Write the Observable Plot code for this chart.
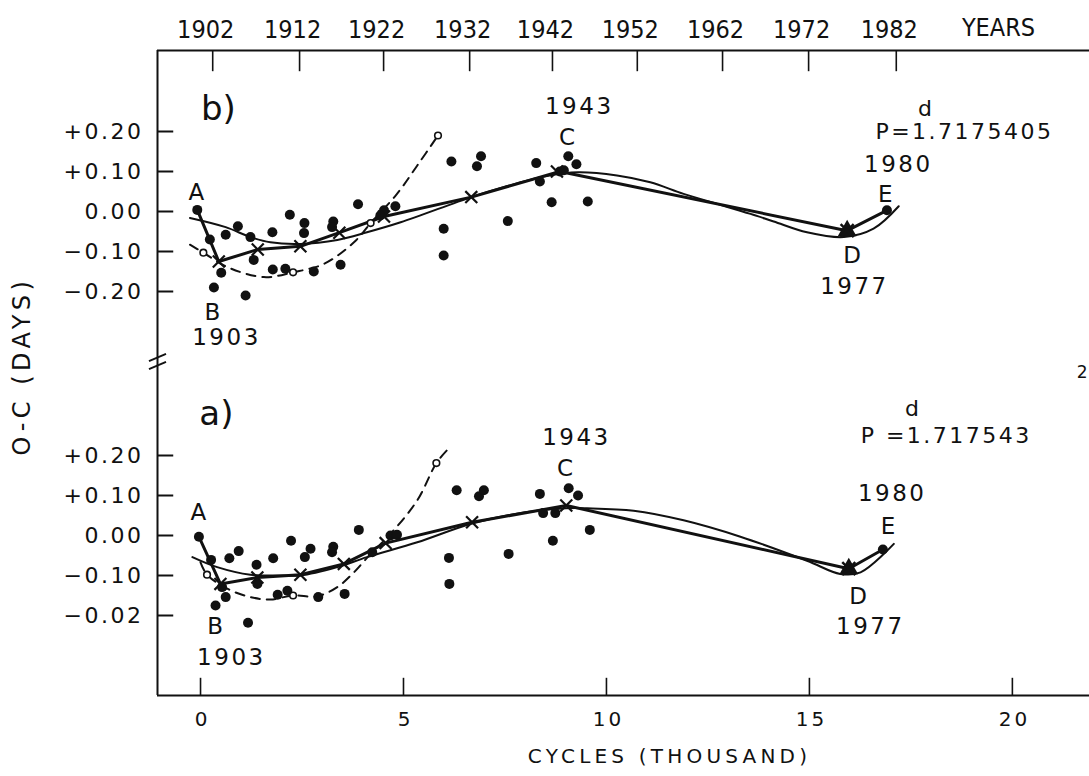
<!DOCTYPE html>
<html>
<head>
<meta charset="utf-8">
<script src="https://cdn.jsdelivr.net/npm/d3@7"></script>
<script src="https://cdn.jsdelivr.net/npm/@observablehq/plot@0.6"></script>
<style>
  html, body { margin: 0; padding: 0; background: #fff; }
  #chart svg { display: block; }
</style>
</head>
<body>
<div id="chart"></div>
<script>
// ---------- axes / tick labels ----------
const years = ["1902","1912","1922","1932","1942","1952","1962","1972","1982"];
const yearCycles = [0.30, 2.44, 4.51, 6.63, 8.67, 10.76, 12.86, 14.98, 17.14]; // thousand cycles
const cycleTicks = [0, 5, 10, 15, 20];
const yValueTicks = [0.2, 0.1, 0, -0.1, -0.2];
const yLabelsB = ["+0.20", "+0.10", "0.00", "\u22120.10", "\u22120.20"];
const yLabelsA = ["+0.20", "+0.10", "0.00", "\u22120.10", "\u22120.02"];

// ---------- panel b (P = 1.7175405 d) ----------
const bFilled = [[-0.08,0.004],[0.23,-0.07],[0.33,-0.19],[0.51,-0.153],[0.62,-0.058],[0.92,-0.037],[1.11,-0.21],[1.23,-0.064],[1.31,-0.121],[1.77,-0.052],[1.78,-0.145],[2.09,-0.143],[2.20,-0.008],[2.56,-0.029],[2.55,-0.054],[2.79,-0.15],[3.27,-0.025],[3.24,-0.039],[3.45,-0.133],[3.88,0.018],[4.52,0.003],[4.43,-0.01],[4.80,0.013],[5.99,-0.043],[5.99,-0.11],[6.18,0.125],[6.81,0.113],[6.91,0.138],[7.57,-0.024],[8.27,0.121],[8.36,0.075],[8.65,0.023],[8.85,0.10],[8.95,0.103],[9.06,0.138],[9.26,0.118],[9.54,0.025],[16.91,0.003]];
const bOpen = [[0.07,-0.103],[2.28,-0.152],[4.19,-0.029],[5.85,0.19]];
const bCrosses = [[0.45,-0.125],[1.41,-0.095],[2.46,-0.087],[3.42,-0.053],[4.52,-0.0125],[6.67,0.036],[8.78,0.10]];
const bBroken = [[-0.08,0.004],[0.45,-0.125],[1.41,-0.095],[2.46,-0.087],[3.42,-0.053],[4.52,-0.0125],[6.67,0.036],[8.85,0.10],[15.93,-0.048],[16.91,0.003]];
const bPointD = [[15.93,-0.048]];
const bSmooth = [[-0.26,-0.016],[0.62,-0.039],[1.23,-0.064],[1.72,-0.077],[2.46,-0.081],[3.37,-0.071],[4.1,-0.052],[4.93,-0.027],[6.67,0.036],[7.5,0.062],[8.5,0.088],[9.3,0.098],[10.26,0.09],[11.08,0.073],[11.9,0.044],[12.73,0.019],[13.55,-0.006],[14.12,-0.025],[14.94,-0.052],[15.85,-0.064],[16.58,-0.043],[17.2,0.013]];
const bDashed = [[-0.26,-0.083],[0.07,-0.103],[0.66,-0.139],[1.56,-0.164],[2.28,-0.152],[3.04,-0.131],[3.78,-0.077],[4.19,-0.029],[4.84,0.044],[5.34,0.115],[5.85,0.19]];

// ---------- panel a (P = 1.717543 d) ----------
const aFilled = [[-0.04,-0.003],[0.26,-0.061],[0.37,-0.175],[0.53,-0.129],[0.62,-0.154],[0.71,-0.057],[0.94,-0.039],[1.17,-0.218],[1.38,-0.073],[1.40,-0.121],[1.79,-0.057],[1.90,-0.148],[2.14,-0.138],[2.23,-0.013],[2.57,-0.054],[2.71,-0.033],[2.90,-0.154],[3.27,-0.028],[3.24,-0.042],[3.55,-0.146],[3.90,0.014],[4.23,-0.042],[4.68,0.0],[4.84,0.002],[6.12,-0.056],[6.13,-0.121],[6.31,0.113],[6.86,0.098],[6.98,0.113],[7.59,-0.046],[8.36,0.104],[8.44,0.056],[8.74,0.056],[8.68,-0.013],[9.07,0.118],[9.30,0.10],[9.59,0.014],[16.81,-0.035]];
const aOpen = [[0.16,-0.098],[2.28,-0.15],[5.81,0.181]];
const aCrosses = [[0.49,-0.121],[1.40,-0.105],[2.46,-0.098],[3.53,-0.071],[4.56,-0.019],[6.69,0.033],[9.01,0.075]];
const aBroken = [[-0.04,-0.003],[0.49,-0.121],[1.40,-0.105],[2.46,-0.098],[3.53,-0.071],[4.56,-0.019],[6.69,0.033],[9.01,0.075],[15.97,-0.083],[16.81,-0.035]];
const aPointD = [[15.97,-0.083]];
const aSmooth = [[-0.2,-0.054],[0.41,-0.079],[1.23,-0.098],[2.05,-0.1],[2.46,-0.1],[3.37,-0.079],[4.1,-0.054],[5.34,-0.017],[6.69,0.03],[8.0,0.058],[9.0,0.068],[9.52,0.068],[10.67,0.062],[11.9,0.038],[13.3,-0.003],[14.94,-0.063],[15.76,-0.096],[16.26,-0.092],[17.08,-0.021]];
const aDashed = [[0.0,-0.067],[0.16,-0.098],[0.66,-0.133],[1.23,-0.154],[1.72,-0.16],[2.28,-0.15],[2.87,-0.152],[3.37,-0.129],[3.78,-0.092],[4.19,-0.046],[4.68,0.004],[5.34,0.088],[5.81,0.181],[6.07,0.213]];

// ---------- layout (stacked panels on one y scale) ----------
const OFFSET_B = 0.81;            // panel b drawn 0.81 d above panel a
const xDomain = [-1.06, 21.9];
const yDomain = [-0.40, 1.2125];
const shiftB = arr => arr.map(([c, v]) => [c, v + OFFSET_B]);

const yTicks = [
  ...yValueTicks.map((v, i) => ({pos: v + OFFSET_B, label: yLabelsB[i]})),
  ...yValueTicks.map((v, i) => ({pos: v, label: yLabelsA[i]}))
];

// annotations in chart coordinates (cycles, stacked O-C)
const notes = [
  {t: "A", x: -0.07, y: 0.8575, s: 23},
  {t: "B", x: 0.32, y: 0.5575, s: 23},
  {t: "1903", x: 0.64, y: 0.495, s: 23},
  {t: "1943", x: 9.33, y: 1.0725, s: 23},
  {t: "C", x: 9.06, y: 0.995, s: 23},
  {t: "d", x: 17.88, y: 1.0675, s: 22},
  {t: "P=1.7175405", x: 18.82, y: 1.01, s: 22},
  {t: "1980", x: 17.19, y: 0.9275, s: 23},
  {t: "E", x: 16.90, y: 0.8525, s: 23},
  {t: "D", x: 16.08, y: 0.70, s: 23},
  {t: "1977", x: 16.11, y: 0.6225, s: 23},
  {t: "A", x: -0.02, y: 0.0575, s: 23},
  {t: "B", x: 0.39, y: -0.2275, s: 23},
  {t: "1903", x: 0.76, y: -0.305, s: 23},
  {t: "1943", x: 9.26, y: 0.245, s: 23},
  {t: "C", x: 9.01, y: 0.1675, s: 23},
  {t: "d", x: 17.56, y: 0.3175, s: 22},
  {t: "P =1.717543", x: 18.37, y: 0.25, s: 22},
  {t: "1980", x: 17.04, y: 0.105, s: 23},
  {t: "E", x: 16.97, y: 0.0225, s: 23},
  {t: "D", x: 16.23, y: -0.1525, s: 23},
  {t: "1977", x: 16.50, y: -0.2275, s: 23}
];
const panelTags = [
  {t: "b)", x: 0.44, y: 1.065},
  {t: "a)", x: 0.39, y: 0.3025}
];

const breakMarks = [0.445, 0.425].map(yb => ({x1: xDomain[0] - 0.21, y1: yb - 0.009, x2: xDomain[0] + 0.21, y2: yb + 0.009}));

const ink = "#111";
const font = "DejaVu Sans, Liberation Sans, sans-serif";
const condensed = "DejaVu Sans Condensed, Liberation Sans Narrow, Liberation Sans, sans-serif";

function panelMarks(filled, open, crosses, broken, pointD, smooth, dashed) {
  return [
    Plot.line(dashed, {stroke: ink, strokeWidth: 2, strokeDasharray: "9,7", curve: "catmull-rom"}),
    Plot.line(smooth, {stroke: ink, strokeWidth: 2, curve: "catmull-rom"}),
    Plot.line(broken, {stroke: ink, strokeWidth: 3, curve: "linear"}),
    Plot.dot(filled, {r: 5, fill: ink, stroke: "none"}),
    Plot.dot(open, {r: 3.3, fill: "#fff", stroke: ink, strokeWidth: 1.6}),
    Plot.dot(crosses, {r: 5.5, symbol: "times", stroke: ink, strokeWidth: 2.2}),
    Plot.dot(pointD, {r: 7, symbol: "triangle", fill: ink, stroke: "none"}),
    Plot.dot(pointD, {r: 6, symbol: "times", stroke: ink, strokeWidth: 2.5})
  ];
}

const chart = Plot.plot({
  width: 1089,
  height: 776,
  marginLeft: 157,
  marginRight: 0,
  marginTop: 50,
  marginBottom: 81,
  x: {domain: xDomain},
  y: {domain: yDomain},
  style: {fontFamily: font, background: "#fff", color: ink, overflow: "visible"},
  marks: [
    // frame (open on the right)
    Plot.ruleX([xDomain[0]], {y1: yDomain[0], y2: yDomain[1], stroke: ink, strokeWidth: 2}),
    Plot.ruleY([yDomain[0], yDomain[1]], {x1: xDomain[0], x2: xDomain[1], stroke: ink, strokeWidth: 2}),
    // inward ticks
    Plot.ruleY(yTicks, {y: "pos", x1: xDomain[0], x2: xDomain[0] + 0.4, stroke: ink, strokeWidth: 2}),
    Plot.ruleX(cycleTicks, {y1: yDomain[0], y2: yDomain[0] + 0.043, stroke: ink, strokeWidth: 1.6}),
    Plot.ruleX(yearCycles, {y1: yDomain[1], y2: yDomain[1] - 0.053, stroke: ink, strokeWidth: 1.6}),
    // axis break
    Plot.link(breakMarks, {x1: "x1", y1: "y1", x2: "x2", y2: "y2", stroke: ink, strokeWidth: 2}),
    // tick labels
    Plot.axisY(yTicks.map(d => d.pos), {
      anchor: "left", tickSize: 0, tickPadding: 14, fontSize: 22, label: null,
      tickFormat: d => yTicks.find(t => Math.abs(t.pos - d) < 1e-9).label
    }),
    Plot.axisX(cycleTicks, {anchor: "bottom", tickSize: 0, tickPadding: 16, fontSize: 20, label: null, dx: 2}),
    Plot.axisX(yearCycles, {
      anchor: "top", tickSize: 0, tickPadding: 13, fontSize: 25, fontFamily: condensed, label: null, dx: -7,
      tickFormat: d => years[yearCycles.indexOf(d)]
    }),
    // titles
    Plot.text(["YEARS"], {frameAnchor: "top-right", dx: -91, dy: -23, textAnchor: "middle", lineAnchor: "middle", fontSize: 25, fontFamily: condensed, ariaDescription: "years-title"}),
    Plot.text(["CYCLES (THOUSAND)"], {frameAnchor: "bottom", dx: 46, dy: 61, textAnchor: "middle", lineAnchor: "middle", fontSize: 20, ariaDescription: "xtitle"}),
    Plot.text(["O-C (DAYS)"], {frameAnchor: "left", dx: -135, dy: -7, rotate: -90, textAnchor: "middle", lineAnchor: "middle", fontSize: 24, ariaDescription: "ytitle"}),
    // data
    ...panelMarks(shiftB(bFilled), shiftB(bOpen), shiftB(bCrosses), shiftB(bBroken), shiftB(bPointD), shiftB(bSmooth), shiftB(bDashed)),
    ...panelMarks(aFilled, aOpen, aCrosses, aBroken, aPointD, aSmooth, aDashed),
    // annotations
    Plot.text(notes, {x: "x", y: "y", text: "t", fontSize: d => d.s, ariaDescription: "notes"}),
    Plot.text(panelTags, {x: "x", y: "y", text: "t", fontSize: 34, ariaDescription: "panels"}),
    Plot.text(["2"], {frameAnchor: "right", dx: -2, dy: 0, textAnchor: "end", fontSize: 17})
  ]
});

document.getElementById("chart").appendChild(chart);

// letter spacing to mimic the wide stencil lettering
const svg = d3.select(chart);
svg.selectAll('g[aria-label="y-axis tick label"] text').style("letter-spacing", "2.5px");
svg.selectAll('g[aria-description="notes"] text').style("letter-spacing", "2.5px");
svg.selectAll('g[aria-description="xtitle"] text').style("letter-spacing", "4.2px");
svg.selectAll('g[aria-description="ytitle"] text').style("letter-spacing", "4.5px");
const xLabelGroups = svg.selectAll('g[aria-label="x-axis tick label"]').nodes();
if (xLabelGroups[0]) d3.select(xLabelGroups[0]).selectAll("text").style("letter-spacing", "3px");
</script>
</body>
</html>
